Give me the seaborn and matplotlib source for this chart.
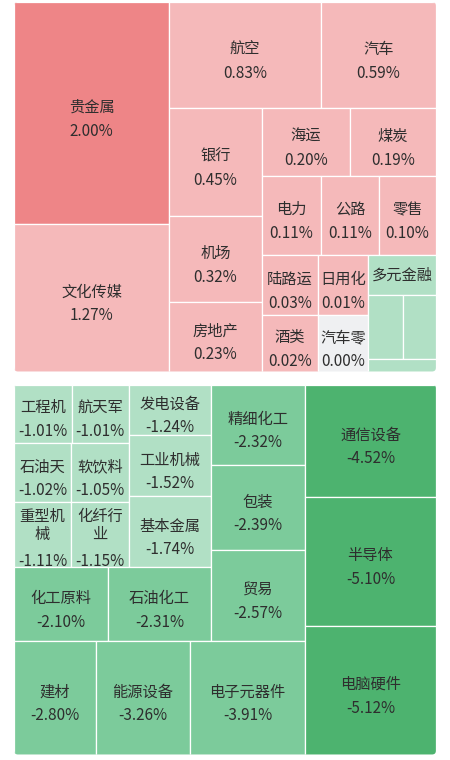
import matplotlib
matplotlib.use('Agg')
import matplotlib.pyplot as plt
from matplotlib.patches import Rectangle, FancyBboxPatch
import seaborn as sns

# ---- data: sectors up (top panel) ----
up_names = ['贵金属', '文化传媒', '航空', '汽车', '银行', '机场', '房地产', '海运', '煤炭',
            '电力', '公路', '零售', '陆路运', '酒类', '日用化', '汽车零', '多元金融', '', '', '']
up_changes = [2.00, 1.27, 0.83, 0.59, 0.45, 0.32, 0.23, 0.20, 0.19,
              0.11, 0.11, 0.10, 0.03, 0.02, 0.01, 0.00, -0.30, -0.40, -0.20, -0.10]
up_sizes = [3441, 2279, 1611, 1219, 1004, 800, 642, 598, 585,
            466, 458, 450, 336, 314, 300, 280, 272, 221, 208, 88]
# nested split tree: 'x' = side by side, 'y' = stacked
up_tree = ('x', [('y', [0, 1]),
                 ('y', [('x', [2, 3]),
                        ('x', [('y', [4, 5, 6]),
                               ('y', [('x', [7, 8]),
                                      ('x', [9, 10, 11]),
                                      ('x', [('y', [12, 13]),
                                             ('y', [14, 15]),
                                             ('y', [16, ('x', [17, 18]), 19])])])])])])

# ---- data: sectors down (bottom panel) ----
down_names = ['通信设备', '半导体', '电脑硬件', '建材', '能源设备', '电子元器件',
              '精细化工', '包装', '贸易', '化工原料', '石油化工',
              '发电设备', '工业机械', '基本金属',
              '工程机', '航天军', '石油天', '软饮料', '重型机械', '化纤行业']
down_changes = [-4.52, -5.10, -5.12, -2.80, -3.26, -3.91,
                -2.32, -2.39, -2.57, -2.10, -2.31,
                -1.24, -1.52, -1.74,
                -1.01, -1.01, -1.02, -1.05, -1.11, -1.15]
down_sizes = [1480, 1690, 1677, 927, 1062, 1300,
              761, 799, 855, 696, 762,
              418, 500, 582,
              340, 338, 335, 344, 371, 377]
down_tree = ('x', [('y', [('x', [('y', [('x', [('y', [('x', [14, 15]), ('x', [16, 17]), ('x', [18, 19])]),
                                               ('y', [11, 12, 13])]),
                                        ('x', [9, 10])]),
                                 ('y', [6, 7, 8])]),
                          ('x', [3, 4, 5])]),
                   ('y', [0, 1, 2])])

sns.set_theme(style='white')
plt.rcParams['font.family'] = ['Noto Sans CJK SC', 'DejaVu Sans']

pal = sns.color_palette(['#ee8587', '#f5b9ba', '#eff0f2', '#b1e0c5', '#7ccb9b', '#4db36f'])


def color_for(v):
    if v >= 1.5:
        return pal[0]
    if v > 0:
        return pal[1]
    if v == 0:
        return pal[2]
    if v >= -2:
        return pal[3]
    if v >= -4:
        return pal[4]
    return pal[5]


def weight(node, sizes):
    if isinstance(node, int):
        return sizes[node]
    return sum(weight(k, sizes) for k in node[1])


def split(node, sizes, x, y, w, h, out):
    if isinstance(node, int):
        out[node] = (x, y, w, h)
        return
    d, kids = node
    ws = [weight(k, sizes) for k in kids]
    s = sum(ws)
    pos = 0
    for k, t in zip(kids, ws):
        if d == 'x':
            split(k, sizes, x + w * pos / s, y, w * t / s, h, out)
        else:
            split(k, sizes, x, y + h * pos / s, w, h * t / s, out)
        pos += t


fig = plt.figure(figsize=(4.5, 7.6), dpi=100)
ax = fig.add_axes([0, 0, 1, 1])
ax.set_xlim(0, 450)
ax.set_ylim(760, 0)
ax.axis('off')

FS = 11
CH = FS * 100 / 72  # width of one CJK glyph in px
TXT = '#2e2e2e'


def draw_panel(names, changes, sizes, tree, box):
    x0, y0, w0, h0 = box
    frame = FancyBboxPatch((x0, y0), w0, h0, boxstyle='round,pad=0,rounding_size=4',
                           fc='none', ec='none')
    ax.add_patch(frame)
    rects = {}
    split(tree, sizes, x0, y0, w0, h0, rects)
    for i, (x, y, w, h) in rects.items():
        r = Rectangle((x, y), w, h, fc=color_for(changes[i]), ec='white', lw=0.9)
        ax.add_patch(r)
        r.set_clip_path(frame)
        name = names[i]
        if not name:
            continue
        n = max(1, int((w - 4) // CH))
        lines = [name[j:j + n] for j in range(0, len(name), n)]
        cx, cy = x + w / 2, y + h / 2
        if h < 50:
            t = ax.text(cx, cy, '\n'.join(lines), ha='center', va='center',
                        fontsize=FS, color=TXT)
            t.set_clip_path(r)
            continue
        gap = 24 if len(lines) == 1 else 27
        ys = [k * 18 for k in range(len(lines))]
        ys.append(ys[-1] + gap)
        off = 6 if len(lines) == 1 else 4
        mid = (ys[0] + ys[-1]) / 2
        for k, ln in enumerate(lines):
            t = ax.text(cx, cy + off + ys[k] - mid, ln, ha='center', va='center',
                        fontsize=FS, color=TXT)
            t.set_clip_path(r)
        t = ax.text(cx, cy + off + ys[-1] - mid, f'{changes[i]:.2f}%', ha='center',
                    va='center', fontsize=FS, color=TXT)
        t.set_clip_path(r)


draw_panel(up_names, up_changes, up_sizes, up_tree, (14, 2, 422, 369.5))
draw_panel(down_names, down_changes, down_sizes, down_tree, (14, 384.5, 422, 370))

fig.savefig('out.png', dpi=100)
